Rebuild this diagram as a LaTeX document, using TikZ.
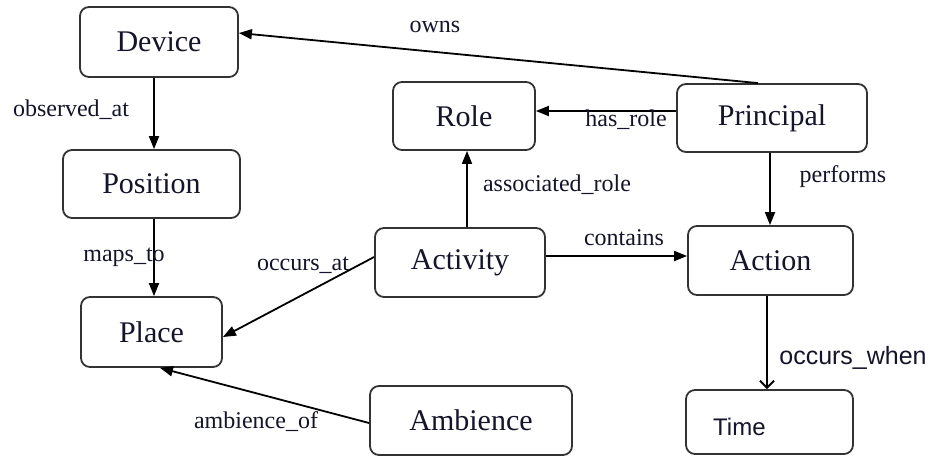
\documentclass[tikz,border=0pt]{standalone}
\usepackage{fontspec}
\setmainfont{Liberation Serif}
\newfontfamily\arialf{Liberation Sans}
\usetikzlibrary{arrows.meta}
\definecolor{boxc}{HTML}{333333}
\definecolor{txtc}{HTML}{14142A}
\begin{document}
\begin{tikzpicture}[x=1pt,y=-1pt,
  box/.style={draw=boxc, line width=1.8pt, rounded corners=9pt, inner sep=0pt, font=\fontsize{30}{36}\selectfont, text=txtc},
  lbl/.style={font=\fontsize{24}{28}\selectfont, text=txtc, inner sep=0pt},
  slbl/.style={font=\arialf\fontsize{25}{30}\selectfont, text=txtc, inner sep=0pt},
  arr/.style={line width=1.8pt, -{Triangle[length=13pt,width=10pt]}},
]
\useasboundingbox[fill=white] (0,0) rectangle (933,456);

% nodes
\node[box, minimum width=158pt, minimum height=70pt] (device) at (159,42) {Device};
\node[box, minimum width=177pt, minimum height=68pt] (position) at (151.5,184) {Position};
\node[box, minimum width=141pt, minimum height=70pt] (place) at (151.5,332) {Place};
\node[box, minimum width=142pt, minimum height=68pt] (role) at (464,116) {Role};
\node[box, minimum width=190pt, minimum height=68pt] (principal) at (772,118) {Principal};
\node[box, minimum width=170pt, minimum height=69pt] (activity) at (460,262.5) {Activity};
\node[box, minimum width=165pt, minimum height=69pt] (action) at (770.5,260.5) {Action};
\node[box, minimum width=202pt, minimum height=69pt] (ambience) at (471,420.5) {Ambience};
\node[box, minimum width=167pt, minimum height=64pt] (time) at (769.5,422) {};
\node[slbl, font=\arialf\fontsize{24}{28}\selectfont, anchor=west] (timetxt) at (713,427) {Time};

% edges
\draw[arr] ([xshift=-5pt]device.south) -- ([xshift=-5pt]device.south |- position.north);
\draw[arr] ([xshift=2.5pt]position.south) -- ([xshift=2.5pt]position.south |- place.north);
\draw[arr] ([xshift=-14pt]principal.north) -- ([yshift=9pt]device.east);
\draw[arr] ([yshift=7pt]principal.west) -- ([yshift=7pt]principal.west -| role.east);
\draw[arr] ([xshift=-2pt]principal.south) -- ([xshift=-2pt]principal.south |- action.north);
\draw[arr] ([xshift=3pt]role.south |- activity.north) -- ([xshift=3pt]role.south);
\draw[arr] ([yshift=6.5pt]activity.east) -- ([yshift=6.5pt]activity.east -| action.west);
\draw[arr] ([yshift=5.5pt]activity.west) -- ([yshift=-5pt]place.east);
\draw[arr] ([yshift=-2.5pt]ambience.west) -- ([xshift=8.5pt]place.south);
\draw[line width=1.5pt, -{Straight Barb[length=7pt,width=14pt,line width=2pt]}] ([xshift=-3.5pt]action.south) -- ([xshift=-3.5pt]action.south |- time.north);

% labels
\node[lbl] (l1) at (71,110) {observed\_at};
\node[lbl] (l2) at (124,257) {maps\_to};
\node[lbl] (l3) at (435,27) {owns};
\node[lbl] (l4) at (626,120) {has\_role};
\node[lbl] (l5) at (557,185) {associated\_role};
\node[lbl] (l6) at (843,177) {performs};
\node[lbl] (l7) at (624,238) {contains};
\node[lbl] (l8) at (303,265) {occurs\_at};
\node[lbl] (l9) at (256,422) {ambience\_of};
\node[slbl] (l10) at (853,358) {occurs\_when};
\end{tikzpicture}
\end{document}
